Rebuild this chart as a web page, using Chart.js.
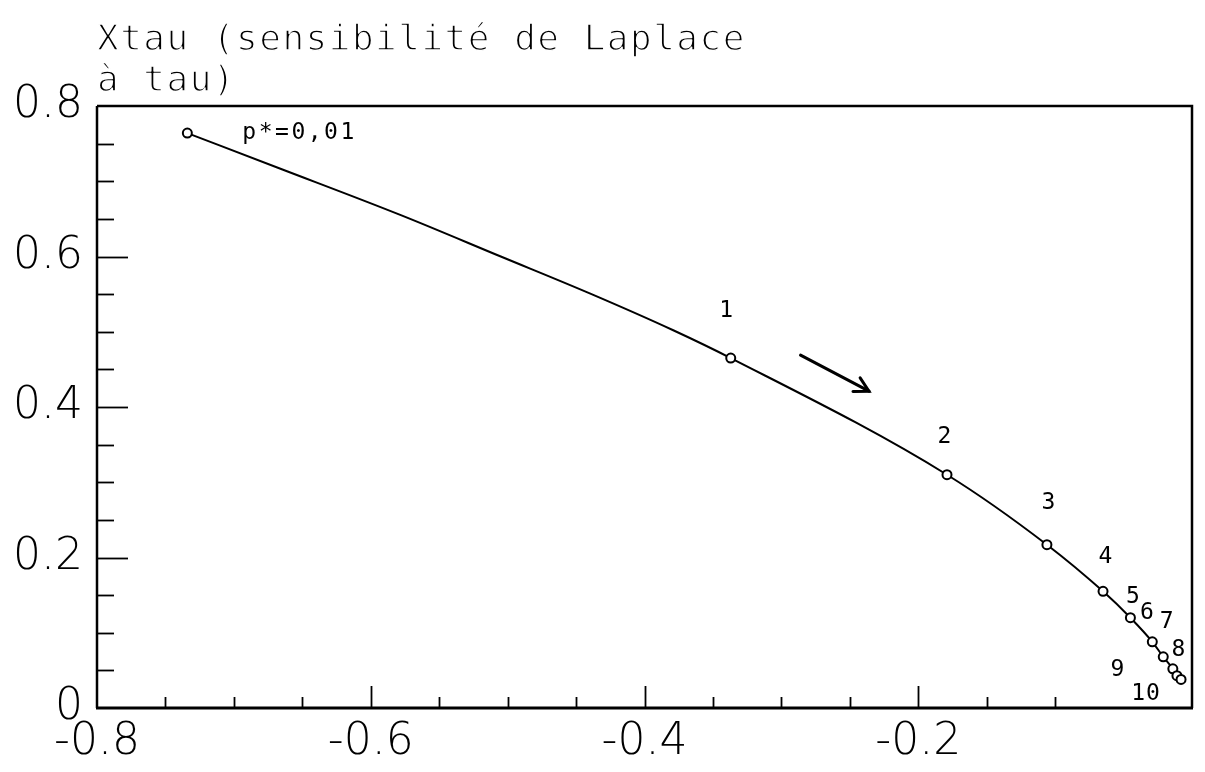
<!DOCTYPE html>
<html>
<head>
<meta charset="utf-8">
<script src="https://cdn.jsdelivr.net/npm/chart.js@4/dist/chart.umd.min.js"></script>
<style>
html,body{margin:0;padding:0;background:#fff;}
#wrap{width:1205px;height:772px;position:relative;}
</style>
</head>
<body>
<div id="wrap"><canvas id="c" width="1205" height="772"></canvas></div>
<script>
// ---- data ----
const titleLines = ['Xtau (sensibilité de Laplace', 'à tau)'];
const pointNames = ['p*=0,01', '1', '2', '3', '4', '5', '6', '7', '8', '9', '10'];
const markerX = [-0.734, -0.337, -0.179, -0.106, -0.065, -0.045, -0.029, -0.021, -0.014, -0.011, -0.008];
const markerY = [0.764, 0.465, 0.310, 0.217, 0.155, 0.120, 0.088, 0.068, 0.052, 0.043, 0.038];
// samples (markers included)
const curveX = [-0.734, -0.665, -0.578, -0.505, -0.440, -0.379, -0.337, -0.179, -0.106, -0.065, -0.045, -0.029, -0.021, -0.014, -0.011, -0.008];
const curveY = [0.764, 0.716, 0.655, 0.600, 0.551, 0.502, 0.465, 0.310, 0.217, 0.155, 0.120, 0.088, 0.068, 0.052, 0.043, 0.038];
const xTickValues = [-0.8, -0.6, -0.4, -0.2];
const xTickLabels = ['-0.8', '-0.6', '-0.4', '-0.2'];
const yTickValues = [0, 0.2, 0.4, 0.6, 0.8];
const yTickLabels = ['0', '0.2', '0.4', '0.6', '0.8'];
const xMinorTicks = [-0.75, -0.7, -0.65, -0.55, -0.5, -0.45, -0.35, -0.3, -0.25, -0.15, -0.1];
const xMajorInner = [-0.6, -0.4, -0.2];
const yMinorTicks = [0.05, 0.1, 0.15, 0.25, 0.3, 0.35, 0.45, 0.5, 0.55, 0.65, 0.7, 0.75];
const yMajorInner = [0.2, 0.4, 0.6];
const arrowFrom = [-0.286, 0.469];
const arrowTo = [-0.236, 0.421];

// ---- layout (pixel offsets of the point labels, not data) ----
const labelOffsets = [[55, 0], [-4, -47], [-2, -38], [2, -42], [3, -34], [3, -21], [-5, -29], [4, -35], [6, -19], [-59, -6], [-35, 15]];

const MONO = "'DejaVu Sans Mono', monospace";
const TICKFONT = "'DejaVu Sans', sans-serif";

const toPts = (xs, ys) => xs.map((x, i) => ({x: x, y: ys[i]}));

// thin "plotter" text: fill then erode with a white stroke
function thinText(ctx, t, x, y, erode) {
  ctx.fillText(t, x, y);
  if (!erode) return;
  ctx.save();
  ctx.strokeStyle = '#fff';
  ctx.lineWidth = erode;
  ctx.lineJoin = 'round';
  ctx.strokeText(t, x, y);
  ctx.restore();
}

const decor = {
  id: 'decor',
  beforeDatasetsDraw(chart) {
    const {ctx, chartArea: a, scales: {x, y}} = chart;
    ctx.save();
    ctx.strokeStyle = '#000';
    ctx.lineCap = 'butt';
    ctx.lineWidth = 2.5;
    ctx.beginPath();
    ctx.moveTo(a.left, a.top); ctx.lineTo(a.right, a.top); ctx.lineTo(a.right, a.bottom);
    ctx.stroke();
    ctx.beginPath();
    ctx.moveTo(a.left, a.top); ctx.lineTo(a.left, a.bottom);
    ctx.stroke();
    ctx.lineWidth = 3.2;
    ctx.beginPath();
    ctx.moveTo(a.left - 1, a.bottom); ctx.lineTo(a.right + 1, a.bottom);
    ctx.stroke();
    ctx.lineWidth = 1.8;
    const vt = (v, len) => { const px = Math.round(x.getPixelForValue(v)) + 0.5; ctx.beginPath(); ctx.moveTo(px, a.bottom); ctx.lineTo(px, a.bottom - len); ctx.stroke(); };
    const ht = (v, len) => { const py = Math.round(y.getPixelForValue(v)) + 0.5; ctx.beginPath(); ctx.moveTo(a.left, py); ctx.lineTo(a.left + len, py); ctx.stroke(); };
    xMinorTicks.forEach(v => vt(v, 11));
    xMajorInner.forEach(v => vt(v, 22));
    yMinorTicks.forEach(v => ht(v, 17));
    yMajorInner.forEach(v => ht(v, 31));
    ctx.restore();
  },
  afterDatasetsDraw(chart) {
    const {ctx, chartArea: a, scales: {x, y}} = chart;
    ctx.save();
    ctx.fillStyle = '#000';
    ctx.font = '36px ' + MONO;
    try { ctx.letterSpacing = '1.5px'; } catch (e) {}
    ctx.textAlign = 'left';
    ctx.textBaseline = 'alphabetic';
    thinText(ctx, titleLines[0], a.left, 50, 1.4);
    thinText(ctx, titleLines[1], a.left, 91, 1.4);
    ctx.font = '23px ' + MONO;
    ctx.textBaseline = 'middle';
    pointNames.forEach((t, i) => {
      const px = x.getPixelForValue(markerX[i]) + labelOffsets[i][0];
      const py = y.getPixelForValue(markerY[i]) + labelOffsets[i][1];
      try { ctx.letterSpacing = i === 0 ? '2.5px' : '1px'; } catch (e) {}
      ctx.textAlign = i === 0 ? 'left' : 'center';
      thinText(ctx, t, px, py, 0);
    });
    try { ctx.letterSpacing = '0px'; } catch (e) {}
    const x0 = x.getPixelForValue(arrowFrom[0]), y0 = y.getPixelForValue(arrowFrom[1]);
    const x1 = x.getPixelForValue(arrowTo[0]), y1 = y.getPixelForValue(arrowTo[1]);
    ctx.strokeStyle = '#000';
    ctx.lineWidth = 3;
    ctx.lineCap = 'round';
    ctx.beginPath(); ctx.moveTo(x0, y0); ctx.lineTo(x1, y1); ctx.stroke();
    const ang = Math.atan2(y1 - y0, x1 - x0);
    const hl = 16, spread = 0.5;
    ctx.beginPath();
    ctx.moveTo(x1 - hl * Math.cos(ang - spread), y1 - hl * Math.sin(ang - spread));
    ctx.lineTo(x1, y1);
    ctx.lineTo(x1 - hl * Math.cos(ang + spread), y1 - hl * Math.sin(ang + spread));
    ctx.stroke();
    ctx.restore();
  }
};

new Chart(document.getElementById('c'), {
  type: 'scatter',
  data: {
    datasets: [
      {
        label: 'courbe',
        data: toPts(curveX, curveY),
        showLine: true,
        borderColor: '#000',
        borderWidth: 2,
        pointRadius: 0,
        cubicInterpolationMode: 'monotone',
        order: 2
      },
      {
        label: 'points',
        data: toPts(markerX, markerY),
        showLine: false,
        pointRadius: 4.5,
        pointBorderWidth: 2,
        pointBackgroundColor: '#fff',
        pointBorderColor: '#000',
        order: 1
      }
    ]
  },
  options: {
    responsive: false,
    animation: false,
    devicePixelRatio: 1,
    layout: {padding: {top: 106, right: 13, left: 0, bottom: 0}},
    plugins: {legend: {display: false}, tooltip: {enabled: false}, title: {display: false}},
    scales: {
      x: {
        type: 'linear', min: -0.8, max: 0,
        afterBuildTicks: s => { s.ticks = xTickValues.map(v => ({value: v})); },
        afterFit: s => { s.height = 64; },
        ticks: {
          callback: v => { const i = xTickValues.findIndex(t => Math.abs(t - v) < 1e-9); return i >= 0 ? xTickLabels[i] : ''; },
          font: {family: TICKFONT, size: 44, weight: '200'}, color: '#000', padding: 8, maxRotation: 0, autoSkip: false
        },
        grid: {display: false, drawTicks: false},
        border: {display: false}
      },
      y: {
        type: 'linear', min: 0, max: 0.8,
        afterBuildTicks: s => { s.ticks = yTickValues.map(v => ({value: v})); },
        afterFit: s => { s.width = 97; },
        ticks: {
          callback: v => { const i = yTickValues.findIndex(t => Math.abs(t - v) < 1e-9); return i >= 0 ? yTickLabels[i] : ''; },
          font: {family: TICKFONT, size: 44, weight: '200'}, color: '#000', padding: 14, autoSkip: false
        },
        grid: {display: false, drawTicks: false},
        border: {display: false}
      }
    }
  },
  plugins: [decor]
});
</script>
</body>
</html>
